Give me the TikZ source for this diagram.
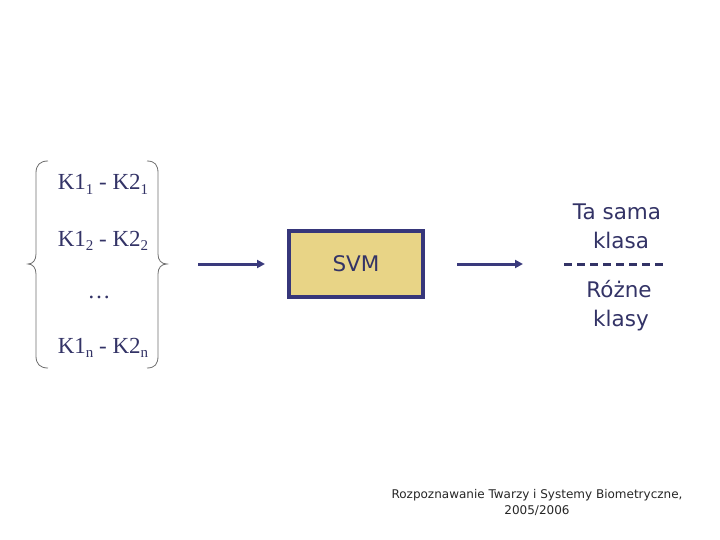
\documentclass[tikz,border=0pt]{standalone}
\usepackage{fontspec}
\setmainfont{Liberation Serif}
\newfontfamily\sansf{DejaVu Sans}
\usetikzlibrary{arrows.meta}
\definecolor{navy}{HTML}{333366}
\definecolor{boxfill}{HTML}{E8D486}
\definecolor{boxline}{HTML}{36367A}
\definecolor{arrcol}{HTML}{3A3A7C}
\definecolor{bracecol}{HTML}{6E6E6E}
\newcommand\mysub[1]{\raisebox{-0.45ex}{\fontsize{15}{15}\selectfont #1}}
\tikzset{
  pairtxt/.style={anchor=base, text=navy, font=\fontsize{23}{23}\selectfont, inner sep=0pt},
  sanstxt/.style={anchor=base, text=navy, font=\sansf\fontsize{21.5}{21.5}\selectfont, inner sep=0pt},
  bracestyle/.style={draw=bracecol, line width=0.8pt},
  flowarrow/.style={draw=arrcol, line width=3pt, -{Triangle[length=8pt,width=8pt]}},
  svmbox/.style={draw=boxline, fill=boxfill, line width=4pt, minimum width=134pt, minimum height=66pt, text=navy, font=\sansf\fontsize{21.5}{21.5}\selectfont}
}
\begin{document}
\begin{tikzpicture}[x=1pt,y=-1pt]
\useasboundingbox (0,0) rectangle (720,540);
% braces
\draw[bracestyle] (48,161) .. controls (40,161) and (36,165) .. (36,173) -- (36,254)
  .. controls (36,260) and (33,264) .. (28,264)
  .. controls (33,264) and (36,268) .. (36,274) -- (36,356)
  .. controls (36,364) and (40,368) .. (48,368);
\draw[bracestyle] (147,161) .. controls (155,161) and (158,165) .. (158,173) -- (158,254)
  .. controls (158,260) and (161,264) .. (167,264)
  .. controls (161,264) and (158,268) .. (158,274) -- (158,356)
  .. controls (158,364) and (155,368) .. (147,368);
% pairs
\node[pairtxt] (p1) at (103,190) {K1\mysub{1} - K2\mysub{1}};
\node[pairtxt] (p2) at (103,246) {K1\mysub{2} - K2\mysub{2}};
\node[pairtxt] (pd) at (99,298) {\ldots};
\node[pairtxt] (pn) at (103,353) {K1\mysub{n} - K2\mysub{n}};
% SVM box
\node[svmbox] (svm) at (356,264) {SVM};
% arrows
\coordinate (a1s) at (198,264);
\coordinate (a1e) at (265,264);
\coordinate (a2s) at (457,264);
\coordinate (a2e) at (523,264);
\draw[flowarrow] (a1s) -- (a1e);
\draw[flowarrow] (a2s) -- (a2e);
% right labels
\node[sanstxt] (t1) at (617,219) {Ta sama};
\node[sanstxt] (t2) at (621,248) {klasa};
\coordinate (d1) at (564,264);
\coordinate (d2) at (667,264);
\draw[draw=navy, line width=3pt, dash pattern=on 8pt off 5pt] (d1) -- (d2);
\node[sanstxt] (t3) at (619,297) {Różne};
\node[sanstxt] (t4) at (621,326) {klasy};
% footer
\node[anchor=base, inner sep=0pt, text=black!85, font=\sansf\fontsize{12}{12}\selectfont] (f1) at (537,498) {Rozpoznawanie Twarzy i Systemy Biometryczne,};
\node[anchor=base, inner sep=0pt, text=black!85, font=\sansf\fontsize{12}{12}\selectfont] (f2) at (537,514) {2005/2006};
\end{tikzpicture}
\end{document}
